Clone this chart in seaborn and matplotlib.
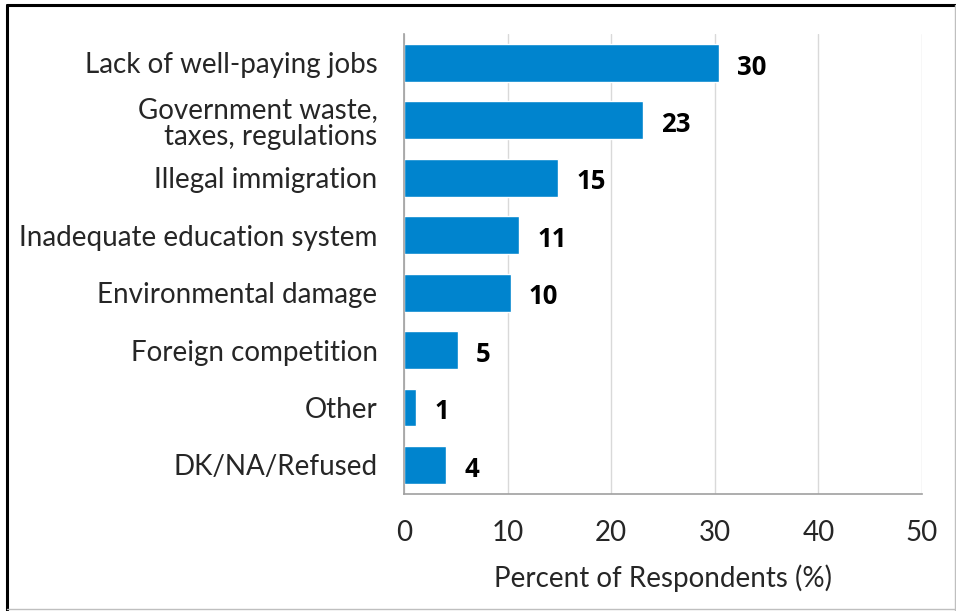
import matplotlib
matplotlib.use("Agg")
import matplotlib.pyplot as plt
import seaborn as sns
import pandas as pd
from matplotlib.lines import Line2D

# Data
categories = [
    "Lack of well-paying jobs",
    "Government waste,\ntaxes, regulations",
    "Illegal immigration",
    "Inadequate education system",
    "Environmental damage",
    "Foreign competition",
    "Other",
    "DK/NA/Refused",
]
values = [30.4, 23.1, 14.9, 11.1, 10.3, 5.2, 1.2, 4.1]
labels = ["30", "23", "15", "11", "10", "5", "1", "4"]

df = pd.DataFrame({"category": categories, "value": values, "label": labels})

sns.set_style("white")
plt.rcParams["font.family"] = ["Lato", "DejaVu Sans"]

fig = plt.figure(figsize=(9.56, 6.11), dpi=100)
ax = fig.add_axes([0.4226, 0.192, 0.5418, 0.752])

sns.barplot(data=df, x="value", y="category", color="#0084CE",
            width=0.66, saturation=1, ax=ax)

for i, row in df.iterrows():
    ax.annotate(row["label"], xy=(row["value"], i), xytext=(13, -3),
                textcoords="offset points", va="center", ha="left",
                fontsize=18.5, fontweight="bold", family="Open Sans",
                color="black")

ax.set_xlim(0, 50)
ax.set_xticks([0, 10, 20, 30, 40, 50])
ax.xaxis.grid(True, color="#d9d9d9", linewidth=1)
ax.set_axisbelow(True)
ax.tick_params(axis="x", labelsize=20, pad=19, length=0)
ax.tick_params(axis="y", labelsize=20, pad=19, length=0)
for t in ax.get_yticklabels():
    t.set_linespacing(1.05)
ax.set_xlabel("Percent of Respondents (%)", fontsize=20, labelpad=13)
ax.set_ylabel("")

for side in ["top", "right"]:
    ax.spines[side].set_visible(False)
for side in ["left", "bottom"]:
    ax.spines[side].set_color("#a0a0a0")
    ax.spines[side].set_linewidth(1.2)

# outer frame of the picture
fig.add_artist(Line2D([0.0075, 0.0075], [0.0, 0.992], color="black", lw=2.2, transform=fig.transFigure))
fig.add_artist(Line2D([0.0075, 1.0], [0.992, 0.992], color="black", lw=2.2, transform=fig.transFigure))
fig.add_artist(Line2D([0.999, 0.999], [0.0, 0.992], color="#bfbfbf", lw=1, transform=fig.transFigure))
fig.add_artist(Line2D([0.0075, 1.0], [0.003, 0.003], color="#bfbfbf", lw=1, transform=fig.transFigure))

fig.savefig("out.png", dpi=100)
